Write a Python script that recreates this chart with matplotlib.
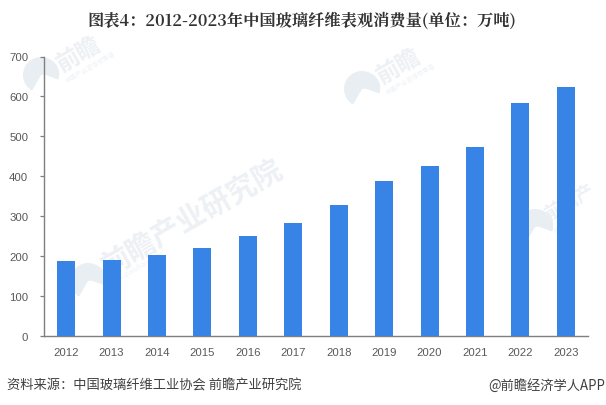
import matplotlib
matplotlib.use("Agg")
import matplotlib.pyplot as plt
from matplotlib.patches import Wedge

plt.rcParams['font.family'] = ['Noto Sans CJK SC', 'DejaVu Sans']

years = ['2012', '2013', '2014', '2015', '2016', '2017', '2018', '2019', '2020', '2021', '2022', '2023']
consumption = [188, 190, 203, 220, 250, 283, 328, 388, 426, 474, 584, 623]
y_ticks = [0, 100, 200, 300, 400, 500, 600, 700]

W, H = 606, 406
fig = plt.figure(figsize=(W / 100, H / 100), dpi=100, facecolor='white')

# axes box in pixels: left 43.5, right 588.5, top 57.5, bottom 337
ax = fig.add_axes([43.5 / W, 1 - 337 / H, 545 / W, 279.5 / H])
ax.patch.set_alpha(0)
ax.bar(range(len(years)), consumption, width=0.395, color='#3783E6', zorder=3)
ax.set_xlim(-0.5, len(years) - 0.5)
ax.set_ylim(0, 700)
ax.set_xticks(range(len(years)))
ax.set_xticklabels(years)
ax.set_yticks(y_ticks)
ax.tick_params(axis='x', length=0, pad=8, labelsize=8.2, labelcolor='#595959')
ax.tick_params(axis='y', length=3, width=0.9, color='#7f7f7f', pad=8, labelsize=8.2, labelcolor='#595959', direction='out')
for label in ax.get_xticklabels() + ax.get_yticklabels():
    label.set_family('Liberation Sans')
ax.spines['top'].set_visible(False)
ax.spines['right'].set_visible(False)
ax.spines['left'].set_color('#7f7f7f')
ax.spines['bottom'].set_color('#7f7f7f')
ax.spines['left'].set_linewidth(1)
ax.spines['bottom'].set_linewidth(1)


# faint watermark: round logo plus rotated text, in pixel coords
bg = fig.add_axes([0, 0, 1, 1], zorder=-1)
bg.set_xlim(0, W)
bg.set_ylim(H, 0)
bg.axis('off')


def watermark(lx, ly, r, tx, ty, text, size, sub=None):
    bg.add_patch(Wedge((lx, ly), r, 120, 350, width=r, color='#E9EEF3', lw=0))
    bg.add_patch(Wedge((lx + 2, ly - 1), r * 0.9, -60, 20, width=r * 0.9, color='#E9EEF3', lw=0))
    bg.text(tx, ty, text, fontsize=size, color='#EDF0F4', rotation=30, rotation_mode='anchor',
            ha='left', va='center', fontweight='bold')
    if sub:
        bg.text(tx + 8, ty + 16, sub, fontsize=4.5, color='#EEF1F4', rotation=30, rotation_mode='anchor',
                ha='left', va='center')


watermark(41, 76, 18, 58, 66, '前瞻', 17, '中国产业咨询领导者')
watermark(362, 90, 18, 378, 78, '前瞻', 17, '中国产业咨询领导者')
watermark(88, 282, 18, 103, 268, '前瞻产业研究院', 21, 'www.qianzhan.com')
watermark(535, 228, 18, 546, 216, '前瞻产', 13, 'PEAK')

fig.text(302 / W, 1 - 21 / H, '图表4：2012-2023年中国玻璃纤维表观消费量(单位：万吨)',
         fontsize=11.7, fontweight='bold', color='#333333', ha='center', va='center',
         family=['Noto Serif CJK SC', 'Noto Sans CJK SC', 'DejaVu Serif'])
fig.text(7 / W, 1 - 385.5 / H, '资料来源：中国玻璃纤维工业协会 前瞻产业研究院',
         fontsize=9.55, color='#404040', ha='left', va='center')
fig.text(605 / W, 1 - 385.5 / H, '@前瞻经济学人APP',
         fontsize=9.55, color='#404040', ha='right', va='center')

fig.savefig('out.png', dpi=100)
